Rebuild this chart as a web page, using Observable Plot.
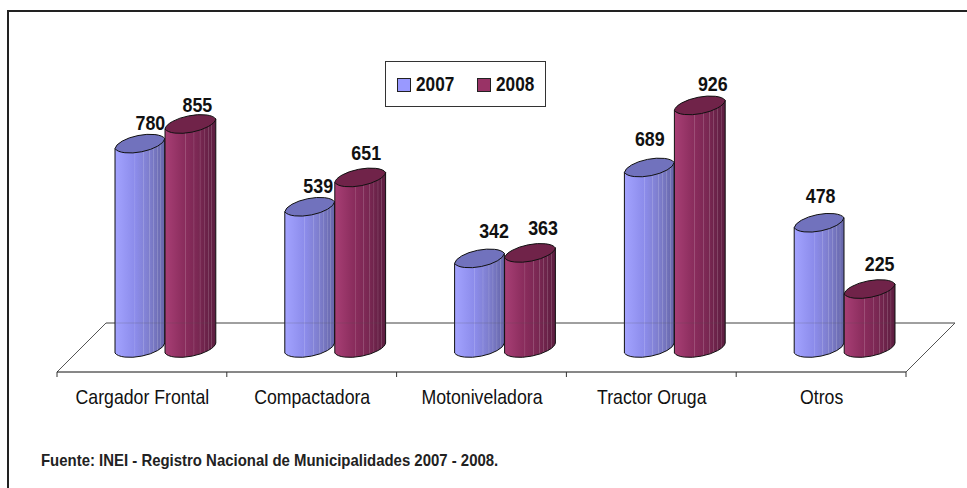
<!DOCTYPE html>
<html lang="es">
<head>
<meta charset="utf-8">
<style>
  html,body{margin:0;padding:0;background:#fff;}
  #page{position:relative;width:967px;height:488px;overflow:hidden;background:#fff;font-family:"Liberation Sans",sans-serif;color:#111;}
  #page svg{position:absolute;left:0;top:0;display:block;}
  #frame{position:absolute;left:7px;top:10px;right:-5px;bottom:-5px;border:2.5px solid #222;box-sizing:border-box;}
  #legend{position:absolute;left:385px;top:61px;width:161px;height:46px;box-sizing:border-box;border:1.5px solid #333;background:#fff;font-weight:bold;font-size:21px;}
  #legend i{position:absolute;top:16px;width:12px;height:12px;border:1px solid #222;}
  #legend span{position:absolute;top:10px;line-height:24px;transform:scaleX(.82);transform-origin:0 50%;}
  #source{position:absolute;left:41px;top:450.5px;font-weight:bold;font-size:16.5px;line-height:18px;color:#222;white-space:nowrap;transform:scaleX(.905);transform-origin:0 50%;}
</style>
<script src="https://cdn.jsdelivr.net/npm/d3@7"></script>
<script src="https://cdn.jsdelivr.net/npm/@observablehq/plot@0.6"></script>
</head>
<body>
<div id="page"></div>
<script>
const categories = ["Cargador Frontal", "Compactadora", "Motoniveladora", "Tractor Oruga", "Otros"];
const values2007 = [780, 539, 342, 689, 478];
const values2008 = [855, 651, 363, 926, 225];
const seriesNames = ["2007", "2008"];
const sourceText = "Fuente: INEI - Registro Nacional de Municipalidades 2007 - 2008.";

// label nudges (style, not data): [dx, dy] from each cylinder's top
const nudge2007 = [[10,-21],[8,-21],[14,-28],[0,-29],[1,-27]];
const nudge2008 = [[7,-19],[6,-25],[13,-25],[13,-22],[10,-25]];

const FONT = '"Liberation Sans",sans-serif';
const rows = (vals) => categories.map((category, i) => ({category, value: vals[i], i}));

const stripes = [.4,.57,.69,.77,.85,.92];
function gradientMark(id, base, lift) {
  return (index, scales, values, dims, ctx) => {
    const defs = d3.create("svg:defs");
    const g = defs.append("linearGradient").attr("id", id).attr("x1",0).attr("x2",1).attr("y1",0).attr("y2",0);
    const color = d3.scaleLinear().domain(base.map(b => b[0])).range(base.map(b => b[1]));
    const stop = (p, c) => g.append("stop").attr("offset", p).attr("stop-color", c);
    stop(0, color(0));
    for (const p of stripes) {
      stop(p - .012, color(p));
      stop(p - .006, d3.interpolateRgb(color(p), "#fff")(lift));
      stop(p + .006, d3.interpolateRgb(color(p), "#fff")(lift));
      stop(p + .012, color(p));
    }
    stop(1, color(1));
    return defs.node();
  };
}

// replaces the rectangles of a barY by cylinders with the same extents
function cylinder(gradientId, topFill) {
  return (index, scales, values, dims, ctx, next) => {
    const g = next(index, scales, values, dims, ctx);
    const tilt = -11, half = 5, ry = 9.8;
    for (const rect of [...g.querySelectorAll("rect")]) {
      const x = +rect.getAttribute("x"), w = +rect.getAttribute("width");
      const yt = +rect.getAttribute("y"), yb = yt + +rect.getAttribute("height");
      const rx = w / 2 + .8;
      const arc = (sweep, px, py) => `A${rx},${ry} ${tilt} 0 ${sweep} ${px},${py}`;
      const body = document.createElementNS("http://www.w3.org/2000/svg", "path");
      body.setAttribute("d", `M${x},${yt+half}L${x},${yb+half}${arc(0,x+w,yb-half)}L${x+w},${yt-half}Z`);
      body.setAttribute("fill", `url(#${gradientId})`);
      body.setAttribute("stroke", "#111");
      const top = document.createElementNS("http://www.w3.org/2000/svg", "path");
      top.setAttribute("d", `M${x},${yt+half}${arc(1,x+w,yt-half)}${arc(1,x,yt+half)}Z`);
      top.setAttribute("fill", topFill);
      top.setAttribute("stroke", "#111");
      rect.replaceWith(body, top);
    }
    return g;
  };
}

function floorMark(depth) {
  return (index, {x}, values, dims) => {
    const left = x(categories[0]), step = x.bandwidth();
    const right = x(categories[categories.length-1]) + step;
    const base = dims.height - dims.marginBottom, back = base - depth;
    const g = d3.create("svg:g").attr("fill","none");
    g.append("path").attr("d",`M${left},${base}L${left+depth},${back}L${right+depth},${back}L${right},${base}`)
      .attr("stroke","#555");
    g.append("path").attr("d",`M${left},${base}H${right}`).attr("stroke","#111");
    for (let i = 0; i <= categories.length; i++) {
      const tx = left + i * step;
      g.append("path").attr("d",`M${tx},${base}v5`).attr("stroke","#333");
    }
    return g.node();
  };
}
function backLineGhost(depth) {
  return (index, {x}, values, dims) => {
    const left = x(categories[0]) + depth;
    const right = x(categories[categories.length-1]) + x.bandwidth() + depth;
    const y = dims.height - dims.marginBottom - depth;
    return d3.create("svg:path").attr("d",`M${left},${y}H${right}`).attr("stroke","#555").attr("stroke-opacity",.22).node();
  };
}

const labelMarks = (vals, nudges, center) => rows(vals).map(r => Plot.text([r], {
  x: "category", y: "value", text: d => String(d.value),
  dx: center + nudges[r.i][0], dy: nudges[r.i][1],
  fontFamily: FONT, fontWeight: "bold", fontSize: 21, fill: "#111"
}));

const chart = Plot.plot({
  width: 967, height: 488,
  marginLeft: 57, marginRight: 61, marginTop: 40, marginBottom: 116,
  style: {background: "transparent", overflow: "visible"},
  x: {type: "band", domain: categories, padding: 0, round: false, label: null},
  y: {domain: [0, 1000], range: [348, 86], axis: null},
  marks: [
    gradientMark("g2007", [[0,"#a3a3ff"],[.35,"#8f8ff0"],[.7,"#7d7dcc"],[1,"#6666a8"]], .16),
    gradientMark("g2008", [[0,"#a83f75"],[.3,"#8f2e60"],[.65,"#7a2853"],[1,"#5c1d40"]], .16),
    floorMark(49),
    Plot.axisX({anchor: "bottom", tickSize: 0, tickPadding: 17, fontSize: 20, fontFamily: FONT, fill: "#111", label: null}),
    Plot.barY(rows(values2007), {x: "category", y: "value", insetLeft: 58, insetRight: 62, fill: "#9999ff", render: cylinder("g2007", "#7172bd")}),
    Plot.barY(rows(values2008), {x: "category", y: "value", insetLeft: 108, insetRight: 11, fill: "#993366", render: cylinder("g2008", "#702349")}),
    backLineGhost(49),
    ...labelMarks(values2007, nudge2007, -2),
    ...labelMarks(values2008, nudge2008, 48)
  ]
});
// no narrow font is installed: condense the chart's texts around their anchors
chart.querySelectorAll("text").forEach(t => {
  const bold = t.closest("[font-weight]") != null;
  const s = bold ? .85 : .885;
  t.setAttribute("transform", (t.getAttribute("transform") || "") + ` scale(${s},1)`);
});
const page = document.getElementById("page");
page.append(chart);

const frame = document.createElement("div"); frame.id = "frame"; page.append(frame);

const legend = document.createElement("div"); legend.id = "legend";
[["#9999ff", 11, 30], ["#993366", 91, 110]].forEach(([c, sx, tx], k) => {
  const sw = document.createElement("i"); sw.style.left = sx + "px"; sw.style.background = c;
  const t = document.createElement("span"); t.style.left = tx + "px"; t.textContent = seriesNames[k];
  legend.append(sw, t);
});
page.append(legend);

const src = document.createElement("div"); src.id = "source"; src.textContent = sourceText; page.append(src);
</script>
</body>
</html>
